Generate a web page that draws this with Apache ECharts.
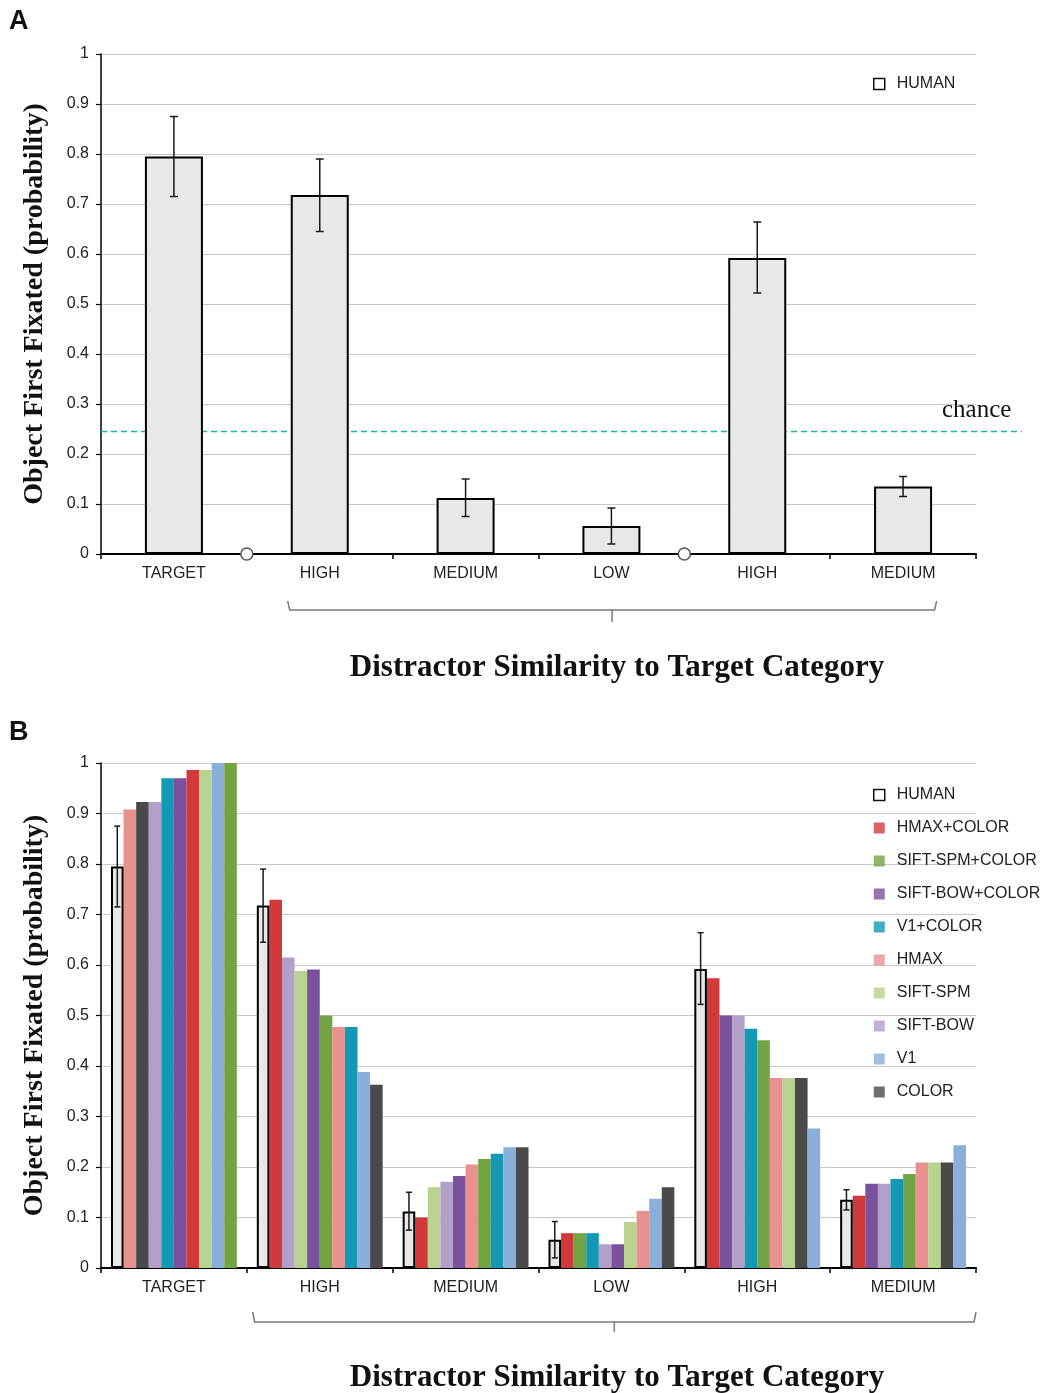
<!DOCTYPE html>
<html><head><meta charset="utf-8">
<script src="https://cdn.jsdelivr.net/npm/echarts@6/dist/echarts.min.js"></script>
<style>html,body{margin:0;padding:0;background:#fff}#c{width:1048px;height:1393px}</style>
</head><body><div id="c"></div>
<script>
// ---------- DATA ----------
const categories = ['TARGET', 'HIGH', 'MEDIUM', 'LOW', 'HIGH', 'MEDIUM'];
const yTickValues = [0, 0.1, 0.2, 0.3, 0.4, 0.5, 0.6, 0.7, 0.8, 0.9, 1];

const humanMean    = [0.795, 0.718, 0.112, 0.056, 0.592, 0.135];
const humanErrLow  = [0.715, 0.645, 0.075, 0.020, 0.522, 0.115];
const humanErrHigh = [0.875, 0.790, 0.150, 0.092, 0.664, 0.155];
const chanceLevel = 0.245;
const axisBreakAfter = [0, 3];          // circles between TARGET|HIGH and LOW|HIGH
const braceFromTo = [1, 5];             // bracket under distractor categories

const modelNames = ['HMAX+COLOR', 'SIFT-SPM+COLOR', 'SIFT-BOW+COLOR', 'V1+COLOR', 'HMAX', 'SIFT-SPM', 'SIFT-BOW', 'V1', 'COLOR'];
const hmaxColorVals    = [0.986, 0.729, 0.100, 0.069, 0.574, 0.143];
const siftSpmColorVals = [1.000, 0.500, 0.216, 0.069, 0.451, 0.186];
const siftBowColorVals = [0.970, 0.591, 0.182, 0.047, 0.500, 0.167];
const v1ColorVals      = [0.970, 0.477, 0.226, 0.069, 0.474, 0.176];
const hmaxVals         = [0.908, 0.477, 0.205, 0.113, 0.376, 0.209];
const siftSpmVals      = [0.986, 0.588, 0.160, 0.091, 0.376, 0.209];
const siftBowVals      = [0.923, 0.615, 0.171, 0.047, 0.500, 0.167];
const v1Vals           = [1.000, 0.388, 0.239, 0.137, 0.276, 0.243];
const colorVals        = [0.923, 0.363, 0.239, 0.160, 0.376, 0.209];

// bar order (after HUMAN) inside each category group, as drawn in the figure
const orderTarget  = ['HMAX', 'COLOR', 'SIFT-BOW', 'V1+COLOR', 'SIFT-BOW+COLOR', 'HMAX+COLOR', 'SIFT-SPM', 'V1', 'SIFT-SPM+COLOR'];
const orderHigh    = ['HMAX+COLOR', 'SIFT-BOW', 'SIFT-SPM', 'SIFT-BOW+COLOR', 'SIFT-SPM+COLOR', 'HMAX', 'V1+COLOR', 'V1', 'COLOR'];
const orderMedium  = ['HMAX+COLOR', 'SIFT-SPM', 'SIFT-BOW', 'SIFT-BOW+COLOR', 'HMAX', 'SIFT-SPM+COLOR', 'V1+COLOR', 'V1', 'COLOR'];
const orderLow     = ['HMAX+COLOR', 'SIFT-SPM+COLOR', 'V1+COLOR', 'SIFT-BOW', 'SIFT-BOW+COLOR', 'SIFT-SPM', 'HMAX', 'V1', 'COLOR'];
const orderHigh2   = ['HMAX+COLOR', 'SIFT-BOW+COLOR', 'SIFT-BOW', 'V1+COLOR', 'SIFT-SPM+COLOR', 'HMAX', 'SIFT-SPM', 'COLOR', 'V1'];
const orderMedium2 = ['HMAX+COLOR', 'SIFT-BOW+COLOR', 'SIFT-BOW', 'V1+COLOR', 'SIFT-SPM+COLOR', 'HMAX', 'SIFT-SPM', 'COLOR', 'V1'];

// ---------- STYLE ----------
const modelColors = {
  'HMAX+COLOR': '#d2393b', 'SIFT-SPM+COLOR': '#72a443', 'SIFT-BOW+COLOR': '#7a519c', 'V1+COLOR': '#1399b3',
  'HMAX': '#e8918f', 'SIFT-SPM': '#b7d38f', 'SIFT-BOW': '#b29fca', 'V1': '#8aafdb', 'COLOR': '#4a4a4a'
};
const modelValues = {
  'HMAX+COLOR': hmaxColorVals, 'SIFT-SPM+COLOR': siftSpmColorVals, 'SIFT-BOW+COLOR': siftBowColorVals,
  'V1+COLOR': v1ColorVals, 'HMAX': hmaxVals, 'SIFT-SPM': siftSpmVals, 'SIFT-BOW': siftBowVals, 'V1': v1Vals, 'COLOR': colorVals
};
const groupOrders = [orderTarget, orderHigh, orderMedium, orderLow, orderHigh2, orderMedium2];
const humanFill = '#e8e8e8';
const sans = 'Liberation Sans, Arial, sans-serif';
const serif = 'Liberation Serif, Times New Roman, serif';
const catGapB = 0.137;

const chart = echarts.init(document.getElementById('c'), null, {renderer: 'canvas'});

function xAxisCfg(gridIndex) {
  return {
    type: 'category', gridIndex, data: categories,
    axisLine: {lineStyle: {color: '#000', width: 2}},
    axisTick: {show: true, length: 5, lineStyle: {color: '#000', width: 1.5}},
    axisLabel: {color: '#222', fontSize: 16, fontFamily: sans, margin: 12, interval: 0},
    splitLine: {show: false}
  };
}
function yAxisCfg(gridIndex) {
  return {
    type: 'value', gridIndex, min: 0, max: 1, interval: 0.1,
    name: 'Object First Fixated (probability)', nameLocation: 'middle', nameGap: 52, nameRotate: 90,
    nameTextStyle: {fontFamily: serif, fontWeight: 'bold', fontSize: 28, color: '#111'},
    axisLine: {show: true, lineStyle: {color: '#000', width: 1.5}},
    axisTick: {show: true, length: 5, lineStyle: {color: '#000', width: 1.2}},
    axisLabel: {color: '#222', fontSize: 16, fontFamily: sans, margin: 12,
      formatter: v => { const t = yTickValues.find(x => Math.abs(x - v) < 1e-6); return String(t !== undefined ? t : v); }},
    splitLine: {show: true, lineStyle: {color: '#c8c8c8', width: 1}}
  };
}

function errorRender(offsetFn, cap) {
  return function (params, api) {
    const i = api.value(0);
    const pLo = api.coord([i, api.value(1)]);
    const pHi = api.coord([i, api.value(2)]);
    const bw = api.size([1, 0])[0];
    const x = pLo[0] + offsetFn(bw);
    const st = {stroke: '#1a1a1a', lineWidth: 1.5};
    return {type: 'group', children: [
      {type: 'line', shape: {x1: x, y1: pLo[1], x2: x, y2: pHi[1]}, style: st},
      {type: 'line', shape: {x1: x - cap, y1: pLo[1], x2: x + cap, y2: pLo[1]}, style: st},
      {type: 'line', shape: {x1: x - cap, y1: pHi[1], x2: x + cap, y2: pHi[1]}, style: st}
    ]};
  };
}
const errData = humanErrLow.map((lo, i) => [i, lo, humanErrHigh[i]]);

function braceRender(leftFrac, rightFrac, drop, endH, midH) {
  return function (params, api) {
    const bw = api.size([1, 0])[0];
    const a = api.coord([api.value(0), 0]);
    const b = api.coord([api.value(1), 0]);
    const x1 = a[0] - leftFrac * bw, x2 = b[0] + rightFrac * bw;
    const y = a[1] + drop, xm = (x1 + x2) / 2;
    const st = {stroke: '#7a7a7a', lineWidth: 1.5, fill: null};
    return {type: 'group', children: [
      {type: 'polyline', shape: {points: [[x1, y - endH], [x1 + 2, y], [x2 - 2, y], [x2, y - endH]]}, style: st},
      {type: 'line', shape: {x1: xm, y1: y, x2: xm, y2: y + midH}, style: st}
    ]};
  };
}

const series = [];
// ---- Panel A ----
series.push({
  type: 'custom', name: 'chance', xAxisIndex: 0, yAxisIndex: 0, z: 1, silent: true, clip: false,
  data: [[0, chanceLevel]],
  renderItem: function (params, api) {
    const cs = params.coordSys;
    const y = api.coord([0, api.value(1)])[1];
    return {type: 'group', children: [
      {type: 'line', shape: {x1: cs.x, y1: y, x2: cs.x + cs.width + 46, y2: y},
        style: {stroke: '#1fb3a6', lineWidth: 1.7, lineDash: [6, 4]}},
      {type: 'text', x: cs.x + cs.width - 34, y: y - 21,
        style: {text: 'chance', fontFamily: serif, fontSize: 25, fill: '#111', verticalAlign: 'middle', align: 'left'}}
    ]};
  }
});
series.push({
  type: 'bar', name: 'HUMAN', xAxisIndex: 0, yAxisIndex: 0, z: 2, barWidth: 58,
  data: humanMean,
  itemStyle: {color: humanFill, borderColor: '#000', borderWidth: 2},
  emphasis: {disabled: true}
});
series.push({
  type: 'custom', name: 'errA', xAxisIndex: 0, yAxisIndex: 0, z: 5, silent: true,
  encode: {x: 0, y: [1, 2]}, data: errData, renderItem: errorRender(() => 0, 4)
});
series.push({
  type: 'custom', name: 'breaks', xAxisIndex: 0, yAxisIndex: 0, z: 6, silent: true, clip: false,
  data: axisBreakAfter.map(i => [i, 0]),
  renderItem: function (params, api) {
    const bw = api.size([1, 0])[0];
    const p = api.coord([api.value(0), 0]);
    return {type: 'circle', shape: {cx: p[0] + bw / 2, cy: p[1], r: 6}, style: {fill: '#fff', stroke: '#555', lineWidth: 1.5}};
  }
});
series.push({
  type: 'custom', name: 'braceA', xAxisIndex: 0, yAxisIndex: 0, silent: true, clip: false,
  data: [braceFromTo], renderItem: braceRender(0.22, 0.23, 56, 9, 12)
});

// ---- Panel B ----
for (let k = 0; k < 10; k++) {
  const data = categories.map((c, g) => {
    if (k === 0) return {value: humanMean[g], itemStyle: {color: humanFill, borderColor: '#000', borderWidth: 2}};
    const m = groupOrders[g][k - 1];
    return {value: modelValues[m][g], name: m, itemStyle: {color: modelColors[m]}};
  });
  series.push({
    type: 'bar', name: k === 0 ? 'HUMAN' : 'rank' + k, xAxisIndex: 1, yAxisIndex: 1, z: k === 0 ? 3 : 2,
    barGap: '0%', barCategoryGap: (catGapB * 100) + '%', data, emphasis: {disabled: true}
  });
}
modelNames.forEach(m => series.push({
  type: 'scatter', name: m, xAxisIndex: 1, yAxisIndex: 1, data: [], itemStyle: {color: modelColors[m]}
}));
series.push({
  type: 'custom', name: 'errB', xAxisIndex: 1, yAxisIndex: 1, z: 5, silent: true,
  encode: {x: 0, y: [1, 2]}, data: errData,
  renderItem: errorRender(bw => { const gw = bw * (1 - catGapB); return -gw / 2 + gw / 20; }, 3)
});
series.push({
  type: 'custom', name: 'braceB', xAxisIndex: 1, yAxisIndex: 1, silent: true, clip: false,
  data: [braceFromTo], renderItem: braceRender(0.46, 0.5, 54, 10, 10)
});

const legendText = {fontSize: 16, fontFamily: sans, color: '#222', lineHeight: 16, padding: [0, 0, 0, 7]};
const option = {
  animation: false,
  backgroundColor: '#fff',
  grid: [
    {left: 101, top: 54, width: 875, height: 500, containLabel: false},
    {left: 101, top: 763, width: 875, height: 505, containLabel: false}
  ],
  xAxis: [xAxisCfg(0), xAxisCfg(1)],
  yAxis: [yAxisCfg(0), yAxisCfg(1)],
  legend: [
    {left: 873, top: 76, orient: 'vertical', itemWidth: 11, itemHeight: 11, selectedMode: false, padding: 0,
      icon: 'rect', textStyle: legendText,
      data: [{name: 'HUMAN', itemStyle: {color: '#fff', borderColor: '#111', borderWidth: 1.5}}]},
    {left: 873, top: 787, orient: 'vertical', itemWidth: 11, itemHeight: 11, itemGap: 17, selectedMode: false, padding: 0,
      icon: 'rect', textStyle: legendText,
      data: [{name: 'HUMAN', itemStyle: {color: '#fff', borderColor: '#111', borderWidth: 1.5}}].concat(modelNames.map(m => ({name: m, itemStyle: {color: modelColors[m], borderWidth: 0}})))}
  ],
  graphic: [
    {type: 'text', left: 9, top: 8, style: {text: 'A', fontFamily: sans, fontWeight: 'bold', fontSize: 27, fill: '#111'}},
    {type: 'text', left: 9, top: 719, style: {text: 'B', fontFamily: sans, fontWeight: 'bold', fontSize: 27, fill: '#111'}},
    {type: 'text', x: 617, y: 668, style: {text: 'Distractor Similarity to Target Category', fontFamily: serif, fontWeight: 'bold', fontSize: 31, fill: '#111', align: 'center', verticalAlign: 'middle'}},
    {type: 'text', x: 617, y: 1378, style: {text: 'Distractor Similarity to Target Category', fontFamily: serif, fontWeight: 'bold', fontSize: 31, fill: '#111', align: 'center', verticalAlign: 'middle'}}
  ],
  series
};
chart.setOption(option);
</script>
</body></html>
